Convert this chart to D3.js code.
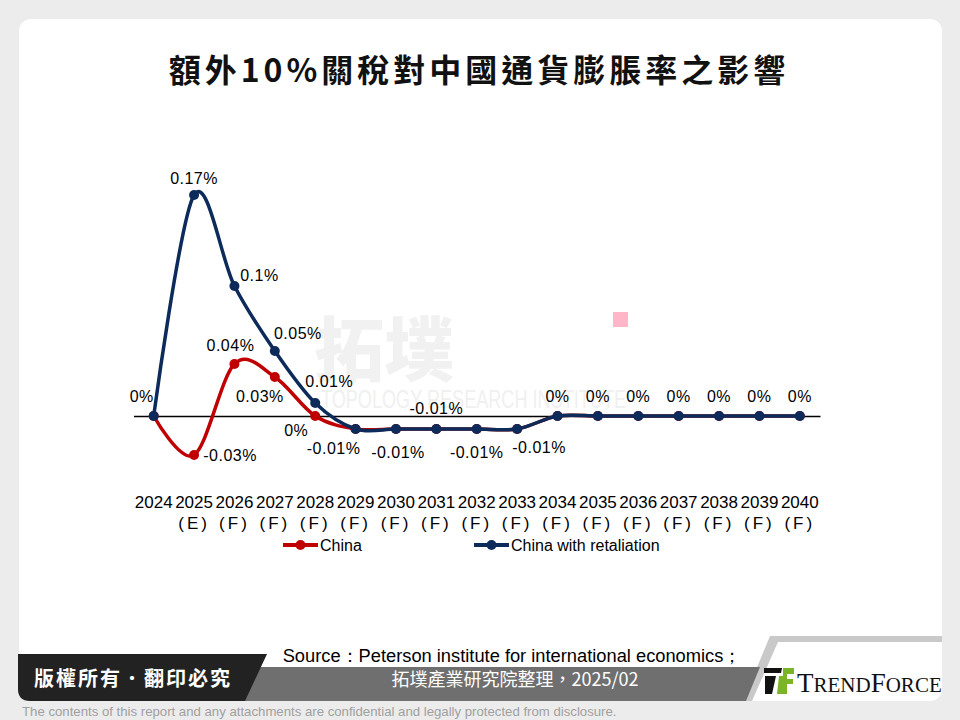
<!DOCTYPE html>
<html>
<head>
<meta charset="utf-8">
<script src="https://cdn.jsdelivr.net/npm/d3@7/dist/d3.min.js"></script>
<style>
  html, body { margin: 0; padding: 0; background: #ececec; }
  svg { display: block; }
</style>
</head>
<body>
<svg id="chart" width="960" height="720"></svg>
<script>
// ---------- DATA ----------
const years = ['2024','2025','2026','2027','2028','2029','2030','2031','2032','2033','2034','2035','2036','2037','2038','2039','2040'];
const yearSuffix = ['','(E)','(F)','(F)','(F)','(F)','(F)','(F)','(F)','(F)','(F)','(F)','(F)','(F)','(F)','(F)','(F)'];
const chinaValues = [0, -0.03, 0.04, 0.03, 0, -0.01, -0.01, -0.01, -0.01, -0.01, 0, 0, 0, 0, 0, 0, 0];
const retaliationValues = [0, 0.17, 0.1, 0.05, 0.01, -0.01, -0.01, -0.01, -0.01, -0.01, 0, 0, 0, 0, 0, 0, 0];
const seriesNames = ['China', 'China with retaliation'];
const titleText = '額外10%關稅對中國通貨膨脹率之影響';
const sourceLine1 = 'Source：Peterson institute for international economics；';
const sourceLine2 = '拓墣產業研究院整理，2025/02';
const copyrightText = '版權所有．翻印必究';
const disclaimer = 'The contents of this report and any attachments are confidential and legally protected from disclosure.';

// ---------- LABEL PLACEMENT (layout, not data) ----------
const chinaLabelOffsets = [null, [36,0], [-4,-19], [-15,19], [-19,14], null, null, null, null, null, null, null, null, null, null, null, null];
const retLabelOffsets = [[-12,-20],[0,-17],[25,-11],[23,-18],[14,-22],[-22,19],[2,23],[0,-21],[0,23],[22,18],
                         [0,-20],[0,-20],[0,-20],[0,-20],[0,-20],[0,-20],[0,-20]];

const RED = '#c00000', NAVY = '#0c2a5a';
const svg = d3.select('#chart');
const FONT = 'Liberation Sans, Arial, sans-serif';

// background panel
svg.append('rect').attr('x',0).attr('y',0).attr('width',960).attr('height',720).attr('fill','#ececec');
svg.append('rect').attr('x',19).attr('y',19).attr('width',923).attr('height',682).attr('rx',12).attr('fill','#ffffff');

// watermark
svg.append('text').attr('x',314).attr('y',376).attr('font-family','Noto Sans CJK TC, sans-serif')
  .attr('font-weight',900).attr('font-size',70).attr('fill','#f1f1f1').text('拓墣');
svg.append('text').attr('x',321).attr('y',408).attr('font-family',FONT).attr('font-size',26)
  .attr('textLength',305).attr('lengthAdjust','spacingAndGlyphs').attr('fill','#f0f0f0').text('TOPOLOGY RESEARCH INSTITUTE');
svg.append('rect').attr('x',613).attr('y',312).attr('width',15).attr('height',15).attr('fill','#ffb6c9');

// title
svg.append('text').attr('x',479).attr('y',82).attr('text-anchor','middle')
  .attr('font-family','Noto Sans CJK TC, sans-serif').attr('font-weight',700)
  .attr('font-size',32).attr('letter-spacing',4).attr('fill','#111').text(titleText);

// scales
const x = d3.scaleBand().domain(years).range([133.5, 820]);
const y = d3.scaleLinear().domain([-0.04, 0.18]).range([468, 182]);
const cx = d => x(d) + x.bandwidth()/2;

// axis
const axis = d3.axisBottom(x).tickSize(0).tickSizeOuter(0).tickPadding(80);
const gAxis = svg.append('g').attr('transform', `translate(0,${y(0)})`).call(axis);
gAxis.select('.domain').attr('stroke','#000').attr('stroke-width',1.5);
gAxis.selectAll('.tick text').each(function(d, i) {
  const t = d3.select(this).text(null).attr('font-family', FONT).attr('font-size', 17).attr('fill','#000');
  t.append('tspan').attr('x',0).text(d);
  const s = yearSuffix[years.indexOf(d)];
  if (s) t.append('tspan').attr('x',0).attr('dy','1.25em').attr('letter-spacing',3).text(s);
});

// lines
const line = d3.line().x((d,i) => cx(years[i])).y(d => y(d)).curve(d3.curveCardinal.tension(0));
const fmt = v => `${+v.toFixed(2)}%`;

function drawSeries(vals, color) {
  const g = svg.append('g');
  g.append('path').datum(vals).attr('d', line).attr('fill','none').attr('stroke',color).attr('stroke-width',3.5);
  g.selectAll('circle').data(vals).join('circle')
    .attr('cx',(d,i)=>cx(years[i])).attr('cy',d=>y(d)).attr('r',5).attr('fill',color);
  return g;
}
drawSeries(chinaValues, RED);
drawSeries(retaliationValues, NAVY);

function drawLabels(vals, offsets) {
  svg.append('g').selectAll('text').data(vals.map((v,i)=>({v,i})).filter(o=>offsets[o.i]))
    .join('text')
    .attr('x', o => cx(years[o.i]) + offsets[o.i][0])
    .attr('y', o => y(o.v) + offsets[o.i][1])
    .attr('dy','0.35em').attr('text-anchor','middle')
    .attr('font-family',FONT).attr('font-size',16).attr('letter-spacing',0.5).attr('fill','#000')
    .text(o => fmt(o.v));
}
drawLabels(chinaValues, chinaLabelOffsets);
drawLabels(retaliationValues, retLabelOffsets);

// legend
const legend = [{name: seriesNames[0], color: RED, x: 283}, {name: seriesNames[1], color: NAVY, x: 474}];
const gl = svg.append('g');
legend.forEach(l => {
  gl.append('line').attr('x1',l.x).attr('x2',l.x+35).attr('y1',545).attr('y2',545).attr('stroke',l.color).attr('stroke-width',4);
  gl.append('circle').attr('cx',l.x+17.5).attr('cy',545).attr('r',5).attr('fill',l.color);
  gl.append('text').attr('x',l.x+37).attr('y',545).attr('dy','0.35em').attr('font-family',FONT)
    .attr('font-size',16).attr('fill','#000').text(l.name);
});

// footer
const f = svg.append('g');
f.append('path').attr('d','M770,636 L942,636 L942,642 L778,642 L752,701 L743,701 Z').attr('fill','#c9c9c9');
f.append('path').attr('d','M240,667 L760,667 L746,701 L240,701 Z').attr('fill','#6f6f6f');
f.append('path').attr('d','M18,654 L267,654 L245,701 L30,701 Q18,701 18,689 Z').attr('fill','#222222');
f.append('text').attr('x',133).attr('y',686).attr('text-anchor','middle').attr('font-family','Noto Sans CJK TC, sans-serif')
  .attr('font-weight',700).attr('font-size',20).attr('letter-spacing',2).attr('fill','#fff').text(copyrightText);
f.append('text').attr('x',512).attr('y',662).attr('text-anchor','middle').attr('font-family',FONT)
  .attr('font-size',18.3).attr('fill','#000').text(sourceLine1);
f.append('text').attr('x',515).attr('y',686).attr('text-anchor','middle').attr('font-family','Noto Sans CJK TC, '+FONT)
  .attr('font-size',18).attr('fill','#fff').text(sourceLine2);
// logo
f.append('path').attr('d','M764,668 L782,668 L781,673 L764,673 Z').attr('fill','#111');
f.append('path').attr('d','M765,676 L776,676 L772,694 L765,694 Z').attr('fill','#111');
f.append('path').attr('d','M783,668 L794,668 L794,674 L787,674 L787,679 L793,679 L793,684 L787,684 L787,694 L777,694 L779,676 L783,676 Z').attr('fill','#7bb527');
const tf = f.append('text').attr('x',797).attr('y',692).attr('font-family','Liberation Serif, serif').attr('fill','#111');
tf.append('tspan').attr('font-size',27).text('T');
tf.append('tspan').attr('font-size',21).text('REND');
tf.append('tspan').attr('font-size',27).text('F');
tf.append('tspan').attr('font-size',21).text('ORCE');

svg.append('text').attr('x',22).attr('y',716).attr('font-family',FONT).attr('font-size',13.2)
  .attr('fill','#a0a0a0').text(disclaimer);
</script>
</body>
</html>
